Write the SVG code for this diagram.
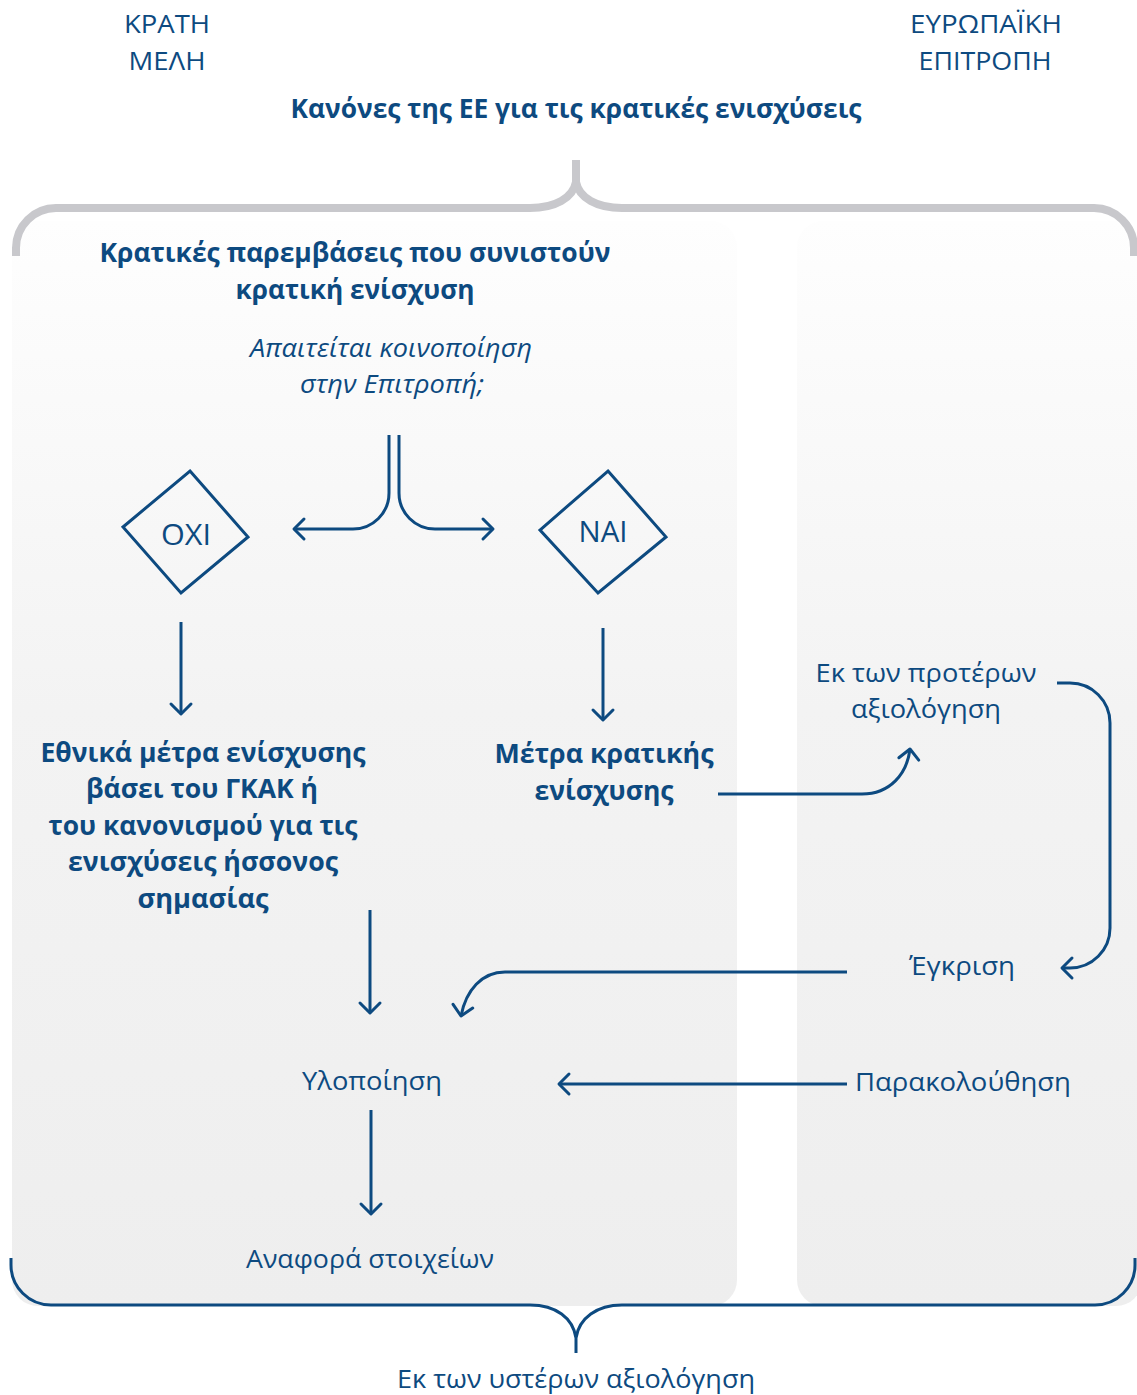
<svg xmlns="http://www.w3.org/2000/svg" width="1137" height="1395" viewBox="0 0 1137 1395">
<defs>
<linearGradient id="pg" x1="0" y1="0" x2="0" y2="1">
<stop offset="0" stop-color="#fefefe"/>
<stop offset="0.45" stop-color="#f3f3f3"/>
<stop offset="1" stop-color="#eeeeee"/>
</linearGradient>
<marker id="ah" viewBox="-14 -14 28 28" refX="0" refY="0" markerWidth="28" markerHeight="28" markerUnits="userSpaceOnUse" orient="auto">
<path d="M-10,-10 L0,0 L-10,10" fill="none" stroke="#0d4a80" stroke-width="3" stroke-linecap="round" stroke-linejoin="round"/>
</marker>
<style>
.t{font-family:"Open Sans","Noto Sans","DejaVu Sans",sans-serif;font-size:26px;fill:#0d4a80;text-anchor:middle}
.b{font-weight:bold}
.i{font-style:italic}
.big{font-size:30px}
.c{fill:none;stroke:#0d4a80;stroke-width:3}
.a{marker-end:url(#ah)}
.d{fill:none;stroke:#0d4a80;stroke-width:3;stroke-linejoin:miter}
</style>
</defs>
<g id="panels">
<rect x="12" y="221" width="725" height="1085" rx="26" fill="url(#pg)"/>
<rect x="797" y="221" width="345" height="1085" rx="26" fill="url(#pg)"/>
</g>
<g id="braces">
<path d="M16,256 V248 A40,40 0 0 1 56,208 H530 C555,208 573,198 576,182 V160 M576,182 C579,198 597,208 622,208 H1094 A40,40 0 0 1 1134,248 V256" fill="none" stroke="#c8c8cc" stroke-width="8"/>
<path d="M11,1258 V1265 A40,40 0 0 0 51,1305 H530 C556,1305 573,1318 576,1338 V1353 M576,1338 C579,1318 597,1305 622,1305 H1095 A40,40 0 0 0 1135,1265 V1258" fill="none" stroke="#0d4a80" stroke-width="3"/>
</g>
<g id="headers">
<text class="t" x="167" y="33" textLength="86" lengthAdjust="spacingAndGlyphs">ΚΡΑΤΗ</text>
<text class="t" x="167" y="70" textLength="77" lengthAdjust="spacingAndGlyphs">ΜΕΛΗ</text>
<text class="t" x="986" y="33" textLength="152" lengthAdjust="spacingAndGlyphs">ΕΥΡΩΠΑΪΚΗ</text>
<text class="t" x="985" y="70" textLength="133" lengthAdjust="spacingAndGlyphs">ΕΠΙΤΡΟΠΗ</text>
<text class="t b" x="576" y="118" textLength="571" lengthAdjust="spacingAndGlyphs">Κανόνες της ΕΕ για τις κρατικές ενισχύσεις</text>
<text class="t" x="576" y="1388" textLength="358" lengthAdjust="spacingAndGlyphs">Εκ των υστέρων αξιολόγηση</text>
</g>
<g id="node-interventions">
<text class="t b" x="355" y="262" textLength="511" lengthAdjust="spacingAndGlyphs">Κρατικές παρεμβάσεις που συνιστούν</text>
<text class="t b" x="355" y="299" textLength="239" lengthAdjust="spacingAndGlyphs">κρατική ενίσχυση</text>
</g>
<g id="node-question">
<text class="t i" x="391" y="357" textLength="282" lengthAdjust="spacingAndGlyphs">Απαιτείται κοινοποίηση</text>
<text class="t i" x="392" y="393" textLength="184" lengthAdjust="spacingAndGlyphs">στην Επιτροπή;</text>
</g>
<g id="node-oxi">
<path class="d" d="M190,471 L248,537 L181,593 L123,527 Z"/>
<text class="t big" x="186" y="545" textLength="50" lengthAdjust="spacingAndGlyphs">ΟΧΙ</text>
</g>
<g id="node-nai">
<path class="d" d="M608,471 L666,537 L598,593 L540,530 Z"/>
<text class="t big" x="603" y="542" textLength="49" lengthAdjust="spacingAndGlyphs">ΝΑΙ</text>
</g>
<g id="node-national">
<text class="t b" x="203" y="762" textLength="325" lengthAdjust="spacingAndGlyphs">Εθνικά μέτρα ενίσχυσης</text>
<text class="t b" x="202" y="798" textLength="232" lengthAdjust="spacingAndGlyphs">βάσει του ΓΚΑΚ ή</text>
<text class="t b" x="203" y="835" textLength="309" lengthAdjust="spacingAndGlyphs">του κανονισμού για τις</text>
<text class="t b" x="203" y="871" textLength="270" lengthAdjust="spacingAndGlyphs">ενισχύσεις ήσσονος</text>
<text class="t b" x="203" y="908" textLength="131" lengthAdjust="spacingAndGlyphs">σημασίας</text>
</g>
<g id="node-measures">
<text class="t b" x="604" y="763" textLength="219" lengthAdjust="spacingAndGlyphs">Μέτρα κρατικής</text>
<text class="t b" x="604" y="800" textLength="139" lengthAdjust="spacingAndGlyphs">ενίσχυσης</text>
</g>
<g id="node-exante">
<text class="t" x="926" y="682" textLength="221" lengthAdjust="spacingAndGlyphs">Εκ των προτέρων</text>
<text class="t" x="926" y="718" textLength="150" lengthAdjust="spacingAndGlyphs">αξιολόγηση</text>
</g>
<g id="node-approval">
<text class="t" x="962" y="975" textLength="106" lengthAdjust="spacingAndGlyphs">Έγκριση</text>
</g>
<g id="node-implementation">
<text class="t" x="372" y="1090" textLength="140" lengthAdjust="spacingAndGlyphs">Υλοποίηση</text>
</g>
<g id="node-monitoring">
<text class="t" x="963" y="1091" textLength="216" lengthAdjust="spacingAndGlyphs">Παρακολούθηση</text>
</g>
<g id="node-reporting">
<text class="t" x="370" y="1268" textLength="248" lengthAdjust="spacingAndGlyphs">Αναφορά στοιχείων</text>
</g>
<g id="connectors">
<path class="c a" d="M389,435 V493 A36,36 0 0 1 353,529 H294"/>
<path class="c a" d="M399,435 V493 A36,36 0 0 0 435,529 H493"/>
<path class="c a" d="M181,622 V714"/>
<path class="c a" d="M603,628 V720"/>
<path class="c a" d="M718,794 H862 C890,794 907,774 910,749"/>
<path class="c a" d="M1057,683 H1070 A40,40 0 0 1 1110,723 V928 A40,40 0 0 1 1070,968 L1062,968"/>
<path class="c a" d="M847,972 H505 C482,972 466,990 461,1016"/>
<path class="c a" d="M370,910 V1013"/>
<path class="c a" d="M847,1084 H559"/>
<path class="c a" d="M371,1110 V1214"/>
</g>
</svg>
